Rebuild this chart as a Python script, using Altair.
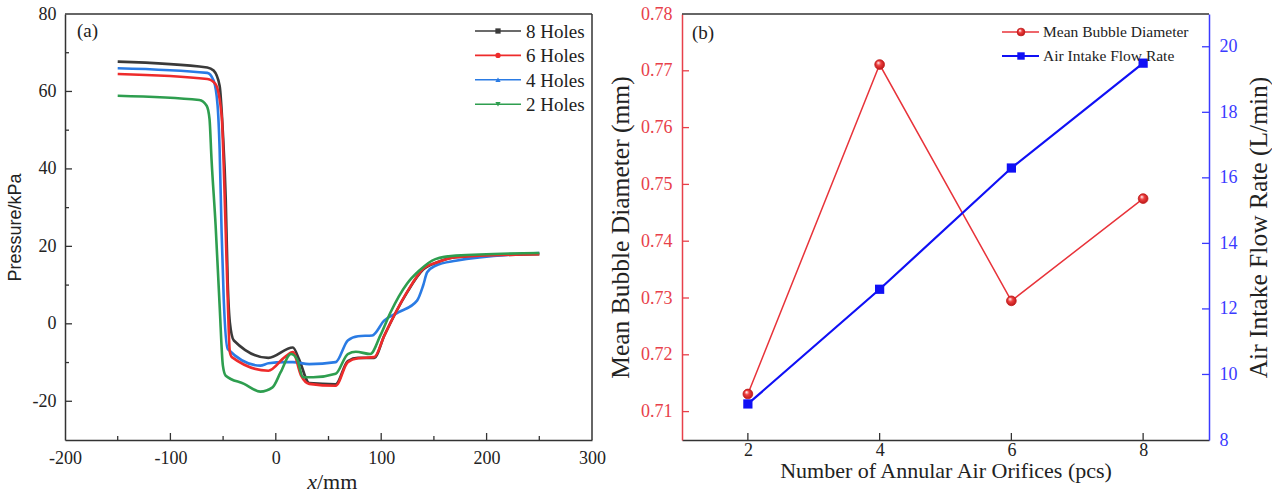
import altair as alt
import pandas as pd

FONT = "Liberation Serif"
SANS = "Liberation Sans"
W, H = 527, 426

# ---------------- panel (a) data ----------------
series_names = ["8 Holes", "6 Holes", "4 Holes", "2 Holes"]
series_colors = ["#3a3a3a", "#ee2b2b", "#2a7be4", "#2e9e4f"]
series_shapes = ["square", "circle", "triangle-up", "triangle-down"]

x_8 = [-150, -65, -59, -53.3, -50.2, -47.5, -45.6, -43.6, -39.8, -7, 16.2, 22, 31.7, 56.8, 68.3, 78, 93.4, 103, 124.3, 139.8, 153.3, 170.7, 250]
p_8 = [67.7, 66.2, 65.4, 61.5, 49.4, 32.2, 10.7, 0.4, -4.3, -8.8, -6.1, -9.1, -15.3, -15.6, -9.6, -8.8, -8.8, -3.0, 8.0, 14.0, 15.9, 17.2, 18.0]

x_6 = [-150, -65, -57.2, -51.4, -49.4, -47.5, -45.6, -43.6, -41.7, -7, 8.5, 16.2, 23.9, 31.7, 56.8, 68.3, 78, 93.4, 103, 124.3, 139.8, 153.3, 170.7, 250]
p_6 = [64.5, 63.2, 61.9, 53.8, 40.8, 23.6, 6.4, -7.3, -8.6, -12.1, -8.6, -7.3, -13.3, -15.5, -16.0, -9.9, -8.9, -8.6, -3.0, 8.1, 14.2, 15.9, 17.2, 18.0]

x_4 = [-150, -65, -59, -55.2, -53.3, -51.4, -49.4, -45.6, -14.7, -7, 8.5, 16.2, 31.7, 56.8, 68.3, 78, 91.5, 103, 116.6, 134, 139.8, 143.6, 151.4, 170.7, 250]
p_4 = [66.0, 64.8, 62.8, 56.3, 45.1, 23.6, 6.4, -6.5, -10.8, -10.2, -9.9, -9.9, -10.4, -9.9, -4.3, -3.2, -3.0, 0.9, 3.0, 6.0, 9.9, 13.3, 15.0, 16.3, 18.3]

x_2 = [-150, -72.6, -65.6, -62.9, -61, -57.1, -53.3, -50.2, -47.5, -30.1, -14.7, -3.1, 4.6, 14.3, 20.1, 25.9, 35.5, 56.8, 68.3, 76, 89.6, 99.2, 108.9, 124.3, 135.9, 151.4, 170.7, 250]
p_2 = [58.9, 57.8, 56.3, 52.9, 42.6, 25.4, 4.7, -10.8, -13.4, -15.5, -17.5, -16.4, -12.5, -7.8, -9.1, -13.8, -13.8, -12.9, -7.8, -7.2, -7.8, -3.0, 3.0, 10.3, 13.7, 16.7, 17.6, 18.3]

a_x_ticks = [-200, -100, 0, 100, 200, 300]
a_x_minor = [-150, -50, 50, 150, 250]
a_y_ticks = [-20, 0, 20, 40, 60, 80]
a_y_minor = [-10, 10, 30, 50, 70]

# ---------------- panel (b) data ----------------
orifices = [2, 4, 6, 8]
bubble_diam = [0.7131, 0.7711, 0.7295, 0.7475]
air_flow = [9.1, 12.6, 16.3, 19.5]
b_x_ticks = [2, 4, 6, 8]
b_yl_ticks = [0.71, 0.72, 0.73, 0.74, 0.75, 0.76, 0.77, 0.78]
b_yr_ticks = [8, 10, 12, 14, 16, 18, 20]

RED_B = "#e8333a"
BLUE_B = "#1010f5"
AX_RED = "#e8404a"
AX_BLUE = "#3a3aff"
FRAME = "#333333"
TXT = "#222222"

one = pd.DataFrame({"k": [0]})

# ================= panel (a) =================
xa_scale = alt.Scale(domain=[-200, 300], nice=False, zero=False)
ya_scale = alt.Scale(domain=[-30, 80], nice=False, zero=False)
xa_axis = alt.Axis(values=a_x_ticks, labelExpr="'' + datum.value", title=None,
                   labelPadding=9, labelFlush=False, domainColor=FRAME)
ya_axis = alt.Axis(values=a_y_ticks, labelExpr="'' + datum.value",
                   title="Pressure/kPa", titleFont=SANS, titleFontSize=18,
                   titleFontWeight="normal", titlePadding=8,
                   labelPadding=9, labelFlush=False, domainColor=FRAME)

xs = {"8 Holes": (x_8, p_8), "6 Holes": (x_6, p_6), "4 Holes": (x_4, p_4), "2 Holes": (x_2, p_2)}
draw_order = ["8 Holes", "4 Holes", "6 Holes", "2 Holes"]

a_layers = []
for name in draw_order:
    xv, pv = xs[name]
    col = series_colors[series_names.index(name)]
    df = pd.DataFrame({"x": xv, "p": pv})
    a_layers.append(
        alt.Chart(df).mark_line(color=col, strokeWidth=2.6, interpolate="monotone").encode(
            x=alt.X("x:Q", scale=xa_scale, axis=xa_axis),
            y=alt.Y("p:Q", scale=ya_scale, axis=ya_axis))
    )


def vticks(vals, scale, axis, length, color):
    return alt.Chart(pd.DataFrame({"v": vals})).mark_rule(color=color, strokeWidth=1.3).encode(
        x=alt.X("v:Q", scale=scale, axis=axis), y=alt.value(H), y2=alt.value(H - length))


def hticks(vals, scale, axis, length, color, right=False):
    x0 = W if right else 0
    x1 = W - length if right else length
    return alt.Chart(pd.DataFrame({"v": vals})).mark_rule(color=color, strokeWidth=1.3).encode(
        y=alt.Y("v:Q", scale=scale, axis=axis), x=alt.value(x0), x2=alt.value(x1))


a_layers += [
    vticks(a_x_ticks[1:-1], xa_scale, xa_axis, 7, FRAME),
    vticks(a_x_minor, xa_scale, xa_axis, 4, FRAME),
    hticks(a_y_ticks[:-1], ya_scale, ya_axis, 7, FRAME),
    hticks(a_y_minor, ya_scale, ya_axis, 4, FRAME),
    alt.Chart(one).mark_rule(color=FRAME, strokeWidth=1.5).encode(x=alt.value(0), x2=alt.value(W), y=alt.value(0)),
    alt.Chart(one).mark_rule(color=FRAME, strokeWidth=1.5).encode(x=alt.value(W), y=alt.value(0), y2=alt.value(H)),
    alt.Chart(one).mark_text(text="(a)", font=FONT, fontSize=19, align="left", baseline="middle", color=TXT).encode(
        x=alt.value(12), y=alt.value(17)),
    alt.Chart(one).mark_text(text="x", font=FONT, fontSize=22, fontStyle="italic", align="right", baseline="middle", color=TXT).encode(
        x=alt.value(252), y=alt.value(468)),
    alt.Chart(one).mark_text(text="/mm", font=FONT, fontSize=22, align="left", baseline="middle", color=TXT).encode(
        x=alt.value(252), y=alt.value(468)),
]

for i, name in enumerate(series_names):
    yy = 17 + 24.4 * i
    col = series_colors[i]
    a_layers += [
        alt.Chart(one).mark_rule(color=col, strokeWidth=1.6).encode(x=alt.value(410), x2=alt.value(456), y=alt.value(yy)),
        alt.Chart(one).mark_point(shape=series_shapes[i], filled=True, color=col, size=28, opacity=1).encode(
            x=alt.value(433), y=alt.value(yy)),
        alt.Chart(one).mark_text(text=name, font=FONT, fontSize=19, align="left", baseline="middle", color=TXT).encode(
            x=alt.value(461), y=alt.value(yy + 1)),
    ]

panel_a = alt.layer(*a_layers).properties(width=W, height=H)

# ================= panel (b) =================
xb_scale = alt.Scale(domain=[1, 9], nice=False, zero=False)
yl_scale = alt.Scale(domain=[0.705, 0.78], nice=False, zero=False)
yr_scale = alt.Scale(domain=[8, 21], nice=False, zero=False)

xb_axis = alt.Axis(values=b_x_ticks, title="Number of Annular Air Orifices (pcs)", titleFontSize=22,
                   titleFontWeight="normal", titlePadding=1, labelPadding=1, labelFlush=False,
                   domainColor=FRAME)
yl_axis = alt.Axis(values=b_yl_ticks, format=".2f", title="Mean Bubble Diameter (mm)", titleFontSize=25.5,
                   titleFontWeight="normal", titlePadding=7, labelPadding=10, labelFlush=False,
                   labelColor=AX_RED, domainColor=AX_RED)
yr_axis = alt.Axis(orient="right", values=b_yr_ticks, title="Air Intake Flow Rate (L/min)", titleFontSize=25.5,
                   titleFontWeight="normal", titleAngle=270, titleBaseline="top", titlePadding=9,
                   labelPadding=10, labelFlush=False, labelColor=AX_BLUE, domainColor=AX_BLUE)

dfb = pd.DataFrame({"n": orifices, "d": bubble_diam, "f": air_flow})

sphere = alt.RadialGradient(gradient="radial", x1=0.35, y1=0.3, r1=0.02, x2=0.5, y2=0.5, r2=0.6,
                            stops=[alt.GradientStop(offset=0, color="#ffffff"),
                                   alt.GradientStop(offset=0.35, color="#f04040"),
                                   alt.GradientStop(offset=1, color="#b01010")])

red_line = alt.Chart(dfb).mark_line(color=RED_B, strokeWidth=1.5).encode(
    x=alt.X("n:Q", scale=xb_scale, axis=xb_axis),
    y=alt.Y("d:Q", scale=yl_scale, axis=yl_axis))
red_pts = alt.Chart(dfb).mark_point(filled=True, fill=sphere, stroke="#c01818", strokeWidth=0.8, size=95, opacity=1).encode(
    x=alt.X("n:Q", scale=xb_scale, axis=xb_axis), y=alt.Y("d:Q", scale=yl_scale, axis=yl_axis))
red_ticks = hticks(b_yl_ticks[:-1], yl_scale, yl_axis, 7, AX_RED)
x_ticks_b = vticks(b_x_ticks, xb_scale, xb_axis, 7, FRAME)

blue_line = alt.Chart(dfb).mark_line(color=BLUE_B, strokeWidth=2.2).encode(
    x=alt.X("n:Q", scale=xb_scale, axis=xb_axis),
    y=alt.Y("f:Q", scale=yr_scale, axis=yr_axis))
blue_pts = alt.Chart(dfb).mark_point(shape="square", filled=True, color=BLUE_B, size=85, opacity=1).encode(
    x=alt.X("n:Q", scale=xb_scale, axis=xb_axis), y=alt.Y("f:Q", scale=yr_scale, axis=yr_axis))
blue_ticks = hticks(b_yr_ticks[1:], yr_scale, yr_axis, 7, AX_BLUE, right=True)

left_sub = alt.layer(red_line, red_ticks, red_pts)
right_sub = alt.layer(blue_line, blue_ticks, blue_pts)

b_deco = [
    x_ticks_b,
    alt.Chart(one).mark_rule(color=FRAME, strokeWidth=1.5).encode(x=alt.value(0), x2=alt.value(W), y=alt.value(0)),
    alt.Chart(one).mark_text(text="(b)", font=FONT, fontSize=19, align="left", baseline="middle", color=TXT).encode(
        x=alt.value(10), y=alt.value(19)),
    alt.Chart(one).mark_rule(color=RED_B, strokeWidth=1.5).encode(x=alt.value(320), x2=alt.value(357), y=alt.value(18)),
    alt.Chart(one).mark_point(filled=True, fill=sphere, stroke="#c01818", strokeWidth=0.8, size=60, opacity=1).encode(
        x=alt.value(339), y=alt.value(18)),
    alt.Chart(one).mark_text(text="Mean Bubble Diameter", font=FONT, fontSize=15.5, align="left", baseline="middle", color=TXT).encode(
        x=alt.value(361), y=alt.value(18)),
    alt.Chart(one).mark_rule(color=BLUE_B, strokeWidth=1.8).encode(x=alt.value(320), x2=alt.value(357), y=alt.value(42)),
    alt.Chart(one).mark_point(shape="square", filled=True, color=BLUE_B, size=55, opacity=1).encode(
        x=alt.value(339), y=alt.value(42)),
    alt.Chart(one).mark_text(text="Air Intake Flow Rate", font=FONT, fontSize=15.5, align="left", baseline="middle", color=TXT).encode(
        x=alt.value(361), y=alt.value(42)),
]

panel_b = alt.layer(left_sub, right_sub, *b_deco).resolve_scale(y="independent").properties(width=W, height=H)

chart = alt.hconcat(panel_a, panel_b, spacing=90, bounds="flush").properties(
    padding={"left": 6, "top": 5, "right": 0, "bottom": 0}
).configure_view(stroke=None).configure_axis(
    labelFont=FONT, titleFont=FONT, labelFontSize=18, labelColor=TXT, titleColor=TXT,
    grid=False, ticks=False, domainWidth=1.5, labelOverlap=False
)

chart.save("out.html", embed_options={"renderer": "svg", "actions": False})
